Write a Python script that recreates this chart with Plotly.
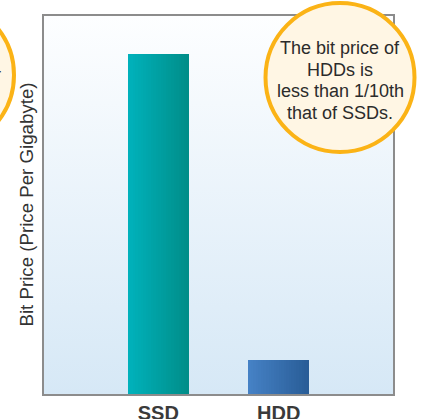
import base64
import plotly.graph_objects as go

categories = ["SSD", "HDD"]
bit_price = [10.0, 1.0]
tick_labels = ["<b>SSD</b>", "<b>HDD</b>"]
y_title = "Bit Price (Price Per Gigabyte)"
callout_right = ["The bit price of", "HDDs is", "less than 1/10th", "that of SSDs."]
callout_left = ["The bit price", "of SSDs is higher", "that of HDDs."]

left_colors = ["#00b2bc", "#4682c6"]
right_colors = ["#008d88", "#285c96"]


def hex2rgb(h):
    h = h.lstrip("#")
    return tuple(int(h[i:i + 2], 16) for i in (0, 2, 4))


def mix(a, b, t):
    ra, rb = hex2rgb(a), hex2rgb(b)
    return "rgb(%d,%d,%d)" % tuple(round(ra[k] + (rb[k] - ra[k]) * t) for k in range(3))


fig = go.Figure()
bar_w = 0.506
n = 24
for i in range(n):
    t = (i + 0.5) / n
    fig.add_trace(go.Bar(
        x=categories, y=bit_price,
        width=bar_w / n * 1.08, offset=-bar_w / 2 + i * bar_w / n,
        marker=dict(color=[mix(left_colors[j], right_colors[j], t) for j in range(2)],
                    line=dict(width=0)),
        showlegend=False, hoverinfo="skip",
    ))

svg = ('<svg xmlns="http://www.w3.org/2000/svg" width="100" height="100" preserveAspectRatio="none">'
       '<defs><linearGradient id="g" x1="0" y1="0" x2="0" y2="1">'
       '<stop offset="0" stop-color="#fdfeff"/><stop offset="1" stop-color="#d6e8f6"/>'
       '</linearGradient></defs><rect width="100" height="100" fill="url(#g)"/></svg>')
src = "data:image/svg+xml;base64," + base64.b64encode(svg.encode()).decode()

PW, PH = 349.0, 378.0  # plot area size in px
L, T = 44.0, 16.0


def px_x(x):
    return (x - L) / PW


def px_y(y):
    return (T + PH - y) / PH


annotations = []
line_h = 21.7
for k, line in enumerate(callout_right):
    yc = 80.5 + (k - (len(callout_right) - 1) / 2) * line_h
    annotations.append(dict(text=line, xref="paper", yref="paper", x=px_x(340), y=px_y(yc),
                            xanchor="center", yanchor="middle", showarrow=False,
                            font=dict(size=18, color="#2b2b2b")))
for k, line in enumerate(callout_left):
    yc = 75 + (k - (len(callout_left) - 1) / 2) * line_h
    annotations.append(dict(text=line, xref="paper", yref="paper", x=px_x(-68.5), y=px_y(yc),
                            xanchor="center", yanchor="middle", showarrow=False,
                            font=dict(size=18, color="#2b2b2b")))
annotations.append(dict(text=y_title, xref="paper", yref="paper", x=0, y=px_y(205), xshift=-18.5,
                        xanchor="center", yanchor="middle",
                        textangle=-90, showarrow=False, font=dict(size=18.7, color="#333333")))

fig.update_layout(
    width=422, height=419,
    margin=dict(l=44, r=29, t=16, b=25),
    paper_bgcolor="white", plot_bgcolor="#ecf4fb",
    barmode="overlay", bargap=0,
    font=dict(family="Liberation Sans, Arial, sans-serif", color="#333333"),
    images=[dict(source=src, xref="paper", yref="paper", x=0, y=1, sizex=1, sizey=1,
                 xanchor="left", yanchor="top", sizing="stretch", layer="below")],
    xaxis=dict(range=[-0.95, 1.95], tickvals=categories, ticktext=tick_labels,
               tickfont=dict(size=20, color="#3a3a3a"), ticks="", ticklabelstandoff=0,
               showline=True, linecolor="#8c8c8c", linewidth=1.5,
               mirror=True, showgrid=False, zeroline=False, fixedrange=True, automargin=False),
    yaxis=dict(range=[0, 11.12], showticklabels=False, ticks="", showline=True,
               linecolor="#8c8c8c", linewidth=1.5, mirror=True, showgrid=False,
               zeroline=False, fixedrange=True, automargin=False),
    shapes=[
        dict(type="circle", xref="paper", yref="paper",
             x0=px_x(340 - 74.5), x1=px_x(340 + 74.5), y0=px_y(77.5 + 74.5), y1=px_y(77.5 - 74.5),
             fillcolor="#fff6e4", line=dict(color="#fbb316", width=4), layer="above"),
        dict(type="circle", xref="paper", yref="paper",
             x0=px_x(-60.5 - 74.5), x1=px_x(-60.5 + 74.5), y0=px_y(75 + 74.5), y1=px_y(75 - 74.5),
             fillcolor="#fff6e4", line=dict(color="#fbb316", width=4), layer="above"),
    ],
    annotations=annotations,
)

fig.write_html("out.html", config={"displayModeBar": False},
               post_script="document.body.style.margin='0';")
